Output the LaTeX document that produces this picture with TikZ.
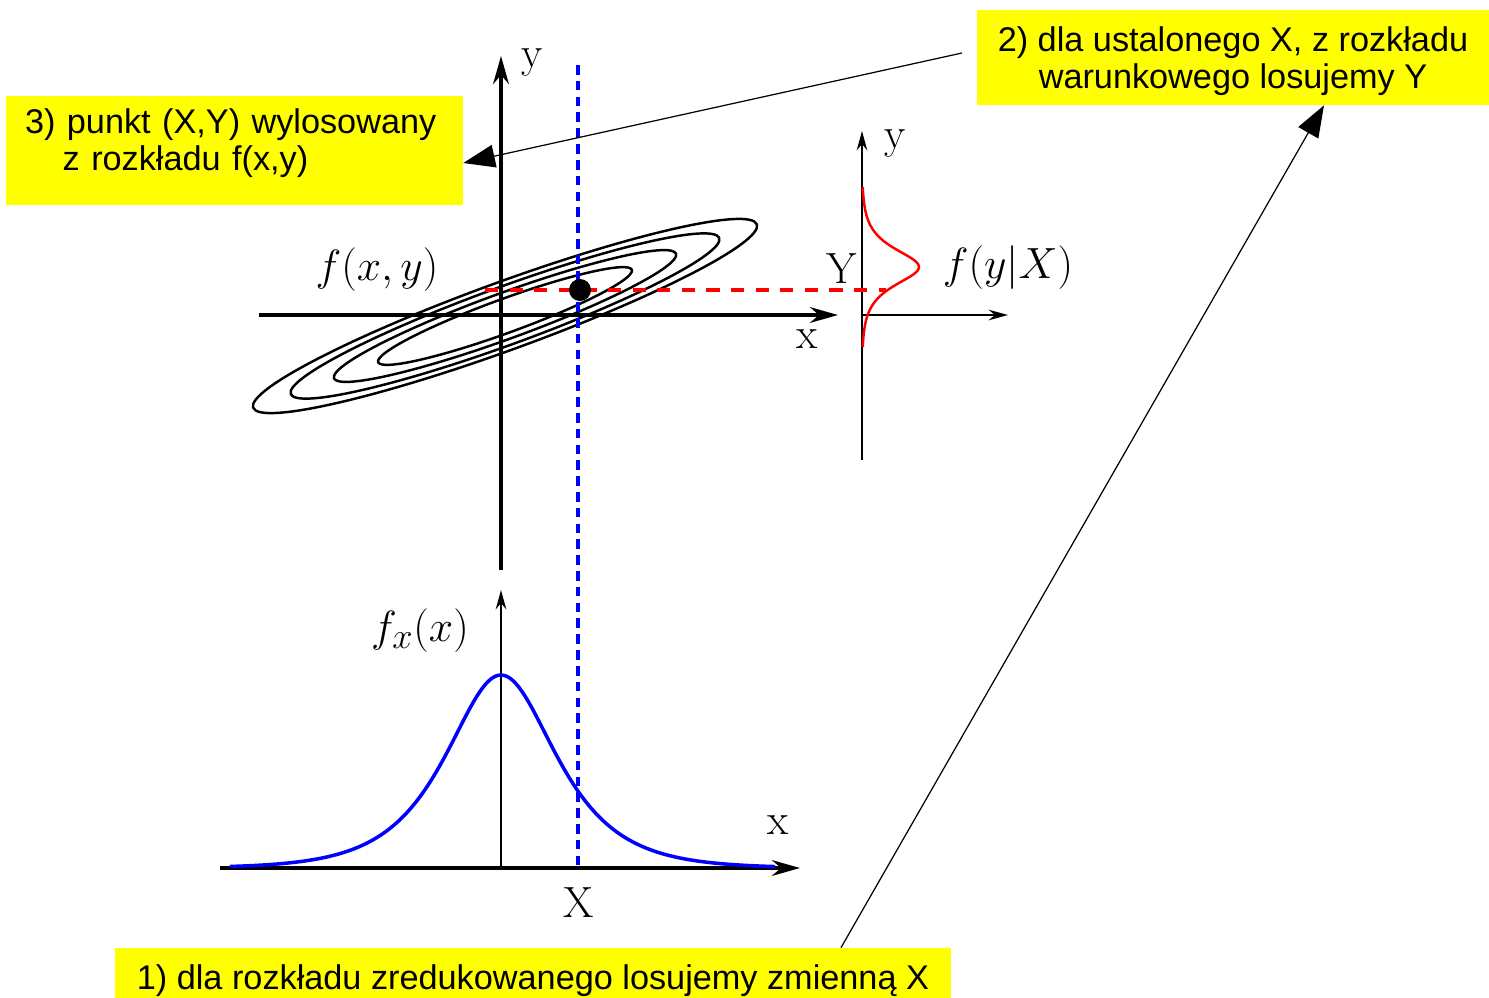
\documentclass[tikz,border=0pt]{standalone}
\usepackage{fontspec}
\newfontfamily\notefont{Liberation Sans}
\usetikzlibrary{arrows.meta}
\definecolor{noteyellow}{RGB}{255,255,0}
\definecolor{curveblue}{RGB}{0,0,255}
\definecolor{curvered}{RGB}{255,0,0}

\begin{document}
\begin{tikzpicture}[x=0.02cm, y=-0.02cm,
    axis/.style={line width=2pt, -{Stealth[length=16pt, width=9pt]}},
    thinaxis/.style={line width=1.3pt, -{Stealth[length=11pt, width=6pt]}},
    contour/.style={line width=1.4pt},
    note/.style={fill=noteyellow, inner sep=0pt, font=\notefont\fontsize{19.5}{21.2}\selectfont},
    pointer/.style={line width=0.7pt, -{Triangle[length=18pt, width=13pt]}},
    lab/.style={font=\Huge, inner sep=0pt}]

    \useasboundingbox (0,0) rectangle (1489,998);

    % contours of f(x,y)
    \foreach \a/\b in {135/17, 182/23, 228/29, 268/34} {
        \draw[contour, rotate around={20:(505,316)}] (505,316) ellipse [x radius=\a, y radius=\b];
    }
    \draw[axis] (501,570)--(501,56);
    \draw[axis] (259,315)--(838,315);
    \node[lab] (ylab) at (532,63) {y};
    \node[lab] (xlab) at (807,339) {x};
    \node[lab] (fxy) at (377,270) {$f(x,y)$};

    % conditional density
    \draw[thinaxis] (862,460)--(862,131);
    \draw[thinaxis] (862,315)--(1008,315);
    \draw[curvered, line width=1.4pt] plot[domain=187:347, samples=80, smooth] ({862+57/cosh((\x-267)/16)}, \x);
    \node[lab] (yrlab) at (895,144) {y};
    \node[lab] (Ylab) at (842,269) {Y};
    \node[lab] (fyX) at (1008,268) {$f(y|X)$};

    % reduced density
    \draw[axis] (220,868)--(800,868);
    \draw[thinaxis] (501,868)--(501,590);
    \draw[curveblue, line width=2pt] plot[domain=230:775, samples=120, smooth] (\x, {868-193/cosh((\x-501)/49)});
    \node[lab] (fxlab) at (420,631) {$f_x(x)$};
    \node[lab] (xblab) at (778,825) {x};
    \node[lab] (Xlab) at (579,903) {X};

    % sampled point
    \draw[curveblue, line width=2.2pt, dash pattern=on 5.5pt off 3.5pt] (578,65)--(578,868);
    \draw[curvered, line width=2.2pt, dash pattern=on 7.5pt off 6.5pt] (485,290)--(886,290);
    \fill (580,290) circle (11);

    % steps
    \node[note, minimum width=16.72cm, minimum height=1.12cm] (step1) at (533,976)
        {\rule{0pt}{19pt}1) dla rozkładu zredukowanego losujemy zmienną X};
    \node[note, minimum width=10.24cm, minimum height=1.9cm, align=center] (step2) at (1233,57.5)
        {\rule{0pt}{18pt}2) dla ustalonego X, z rozkładu\\warunkowego losujemy Y};
    \node[note, text width=8.38cm, inner xsep=0.38cm, minimum height=2.18cm, align=left] (step3) at (234.5,150.5)
        {3) punkt (X,Y) wylosowany\\\hspace*{1.1em}z rozkładu f(x,y)\rule[-12pt]{0pt}{0pt}};
    \coordinate (tail) at (962,53);
    \draw[pointer] (step1.north -| 841,0) -- (step2.south -| 1324,0);
    \draw[pointer] (tail) -- (step3.east |- 0,163);
\end{tikzpicture}
\end{document}
